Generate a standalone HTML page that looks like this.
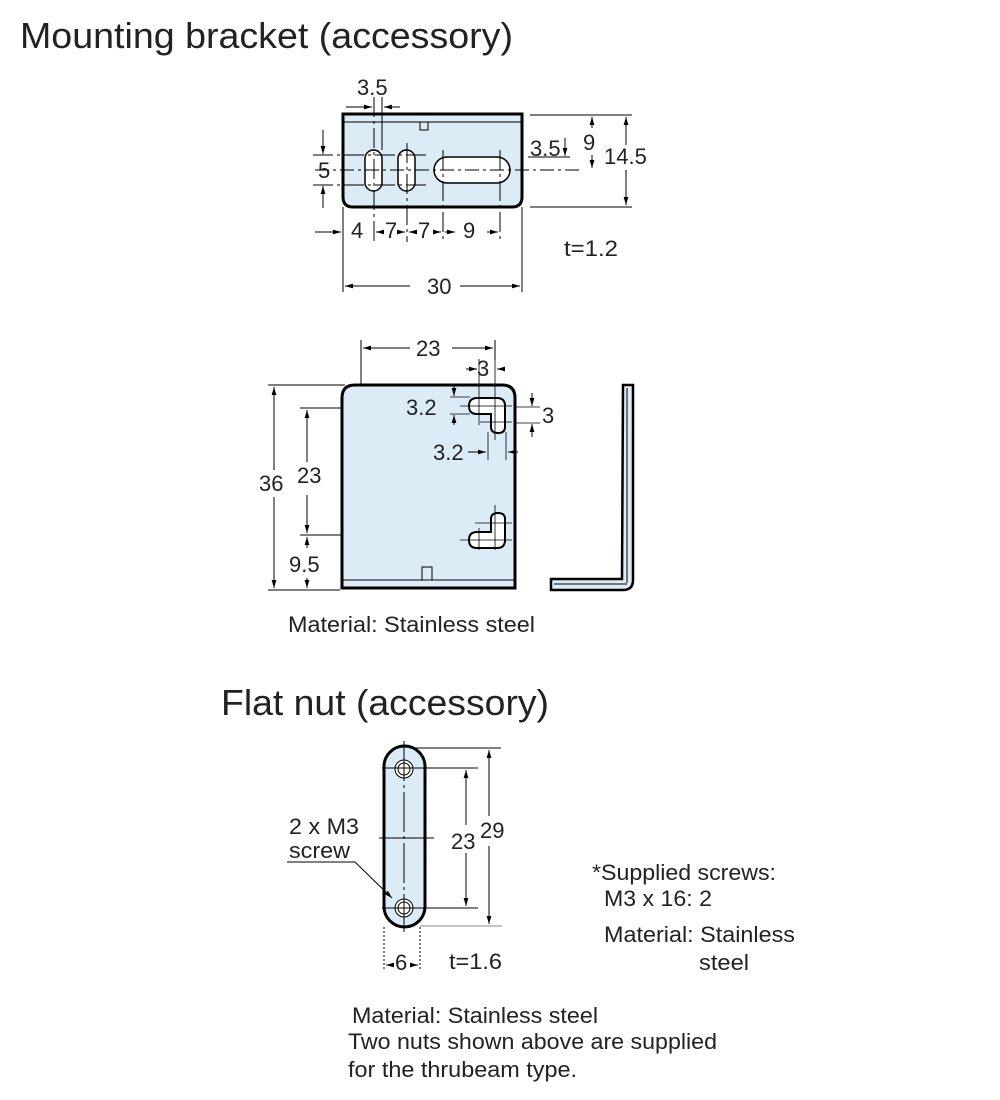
<!DOCTYPE html>
<html><head><meta charset="utf-8"><style>
body{margin:0;background:#fff;}
svg{display:block;font-family:"Liberation Sans",sans-serif;}
</style></head><body>
<svg width="1000" height="1100" viewBox="0 0 1000 1100" xmlns="http://www.w3.org/2000/svg">
<defs>
<marker id="a" viewBox="0 0 10 10" refX="10" refY="5" markerWidth="8" markerHeight="8" orient="auto-start-reverse"><path d="M0,2 L10,5 L0,8z" fill="#000"/></marker>
</defs>
<g fill="#222">
<text x="20" y="48" font-size="36" textLength="493" lengthAdjust="spacingAndGlyphs">Mounting bracket (accessory)</text>
<text x="221" y="715" font-size="36" textLength="328" lengthAdjust="spacingAndGlyphs">Flat nut (accessory)</text>
</g>
<g stroke="#000" fill="none" stroke-width="1">
<!-- top view -->
<path d="M343,114 H522 V197 Q522,207 512,207 H353 Q343,207 343,197 Z" fill="#dcecf6" stroke-width="3"/>
<line x1="343" y1="122" x2="522" y2="122"/>
<rect x="420" y="122" width="8" height="8"/>
<rect x="365" y="150" width="17" height="41" rx="8.5" fill="#fff" stroke-width="1.5"/>
<rect x="398" y="150" width="17" height="41" rx="8.5" fill="#fff" stroke-width="1.5"/>
<rect x="434" y="157" width="76" height="26" rx="13" fill="#fff" stroke-width="1.5"/>
<line x1="315" y1="170" x2="580" y2="170" stroke-dasharray="14,4,3,4"/>
<line x1="313" y1="155" x2="428" y2="155" stroke-dasharray="20,4,3,4"/>
<line x1="313" y1="185" x2="428" y2="185" stroke-dasharray="20,4,3,4"/>
<line x1="374" y1="97" x2="374" y2="242" stroke-dasharray="20,4,3,4"/>
<line x1="407" y1="143" x2="407" y2="242" stroke-dasharray="20,4,3,4"/>
<line x1="443" y1="150" x2="443" y2="242" stroke-dasharray="20,4,3,4"/>
<line x1="500" y1="150" x2="500" y2="242" stroke-dasharray="20,4,3,4"/>
<line x1="382" y1="97" x2="382" y2="150"/>
<line x1="346" y1="107" x2="372" y2="107" marker-end="url(#a)"/>
<line x1="400" y1="107" x2="384" y2="107" marker-end="url(#a)"/>
<line x1="323" y1="130" x2="323" y2="154" marker-end="url(#a)"/>
<line x1="323" y1="208" x2="323" y2="186" marker-end="url(#a)"/>
<line x1="530" y1="115" x2="632" y2="115"/>
<line x1="530" y1="207" x2="632" y2="207"/>
<line x1="626" y1="145" x2="626" y2="117" marker-end="url(#a)"/>
<line x1="626" y1="170" x2="626" y2="205" marker-end="url(#a)"/>
<line x1="592" y1="128" x2="592" y2="117" marker-end="url(#a)"/>
<line x1="592" y1="155" x2="592" y2="168" marker-end="url(#a)"/>
<line x1="565" y1="138" x2="565" y2="156" marker-end="url(#a)"/>
<line x1="528" y1="157" x2="570" y2="157"/>
<line x1="343" y1="207" x2="343" y2="292"/>
<line x1="522" y1="207" x2="522" y2="292"/>
<line x1="315" y1="232" x2="341" y2="232" marker-end="url(#a)"/>
<line x1="383" y1="232" x2="376" y2="232" marker-end="url(#a)"/>
<line x1="398" y1="232" x2="405" y2="232" marker-end="url(#a)"/>
<line x1="416" y1="232" x2="409" y2="232" marker-end="url(#a)"/>
<line x1="433" y1="232" x2="441" y2="232" marker-end="url(#a)"/>
<line x1="445" y1="232" x2="455" y2="232" marker-end="url(#a)"/>
<line x1="487" y1="232" x2="498" y2="232" marker-end="url(#a)"/>
<line x1="410" y1="286" x2="345" y2="286" marker-end="url(#a)"/>
<line x1="460" y1="286" x2="520" y2="286" marker-end="url(#a)"/>

<!-- front view -->
<path d="M342,588 V398 Q342,385 355,385 H502 Q515,385 515,398 V588 Z" fill="#dcecf6" stroke-width="3"/>
<line x1="342" y1="580" x2="515" y2="580"/>
<rect x="422" y="567" width="10" height="13"/>
<path d="M477,398 H497 Q505,398 505,406 V427 Q505,433 498,433 Q491,433 491,427 V414 H477 Q469,414 469,406 Q469,398 477,398 Z" fill="#fff" stroke-width="2"/>
<path d="M477,548 H497 Q505,548 505,540 V519 Q505,513 498,513 Q491,513 491,519 V532 H477 Q469,532 469,540 Q469,548 477,548 Z" fill="#fff" stroke-width="2"/>
<g stroke-width="0.8">
<line x1="479" y1="359" x2="479" y2="425"/><line x1="495" y1="359" x2="495" y2="440"/>
<line x1="460" y1="406" x2="512" y2="406"/><line x1="480" y1="422" x2="512" y2="422"/>
<line x1="488" y1="432" x2="488" y2="460"/><line x1="506" y1="432" x2="506" y2="460"/>
<line x1="460" y1="540" x2="512" y2="540"/><line x1="475" y1="523" x2="512" y2="523"/>
<line x1="479" y1="528" x2="479" y2="550"/><line x1="495" y1="505" x2="495" y2="550"/>
<line x1="450" y1="397" x2="470" y2="397"/><line x1="450" y1="414" x2="470" y2="414"/>
<line x1="515" y1="407" x2="540" y2="407"/><line x1="515" y1="423" x2="540" y2="423"/>
</g>
<line x1="454" y1="385" x2="454" y2="396" marker-end="url(#a)"/>
<line x1="454" y1="425" x2="454" y2="415" marker-end="url(#a)"/>
<line x1="532" y1="393" x2="532" y2="406" marker-end="url(#a)"/>
<line x1="532" y1="437" x2="532" y2="424" marker-end="url(#a)"/>
<line x1="468" y1="452" x2="486" y2="452" marker-end="url(#a)"/>
<line x1="518" y1="452" x2="508" y2="452" marker-end="url(#a)"/>
<line x1="466" y1="369" x2="477" y2="369" marker-end="url(#a)"/>
<line x1="505" y1="369" x2="497" y2="369" marker-end="url(#a)"/>
<line x1="361" y1="340" x2="361" y2="385"/>
<line x1="495" y1="340" x2="495" y2="360"/>
<line x1="410" y1="348" x2="363" y2="348" marker-end="url(#a)"/>
<line x1="452" y1="348" x2="493" y2="348" marker-end="url(#a)"/>
<line x1="268" y1="385" x2="345" y2="385"/>
<line x1="268" y1="590" x2="340" y2="590"/>
<line x1="274" y1="470" x2="274" y2="387" marker-end="url(#a)"/>
<line x1="274" y1="497" x2="274" y2="588" marker-end="url(#a)"/>
<line x1="300" y1="408" x2="342" y2="408"/>
<line x1="300" y1="535" x2="342" y2="535"/>
<line x1="307" y1="462" x2="307" y2="410" marker-end="url(#a)"/>
<line x1="307" y1="495" x2="307" y2="533" marker-end="url(#a)"/>
<line x1="307" y1="548" x2="307" y2="537" marker-end="url(#a)"/>
<line x1="307" y1="578" x2="307" y2="588" marker-end="url(#a)"/>
<!-- side view -->
<path d="M623,385 H633 V580 Q633,590 623,590 H551 V579 H622 Z" fill="#dcecf6" stroke-width="2.5"/>
<line x1="627" y1="388" x2="627" y2="583"/>
<line x1="554" y1="584" x2="627" y2="584"/>

<!-- flat nut -->
<rect x="384" y="746" width="41" height="181" rx="20.5" fill="#dcecf6" stroke-width="3"/>
<circle cx="404" cy="769" r="9" fill="#fff"/><circle cx="404" cy="769" r="6"/>
<circle cx="404" cy="908" r="9" fill="#fff"/><circle cx="404" cy="908" r="6"/>
<line x1="404" y1="741" x2="404" y2="932" stroke-dasharray="40,4,3,4"/>
<line x1="379" y1="838" x2="434" y2="838"/>
<line x1="382" y1="768" x2="478" y2="768"/>
<line x1="382" y1="908" x2="478" y2="908"/>
<line x1="414" y1="748" x2="501" y2="748"/>
<line x1="420" y1="926" x2="502" y2="926" stroke="#888"/>
<line x1="466" y1="825" x2="466" y2="770" marker-end="url(#a)"/>
<line x1="466" y1="853" x2="466" y2="906" marker-end="url(#a)"/>
<line x1="489" y1="816" x2="489" y2="750" marker-end="url(#a)"/>
<line x1="489" y1="846" x2="489" y2="924" marker-end="url(#a)"/>
<line x1="384" y1="927" x2="384" y2="970" stroke-dasharray="2,2"/>
<line x1="420" y1="927" x2="420" y2="970" stroke-dasharray="2,2"/>
<line x1="392" y1="965" x2="386" y2="965" marker-end="url(#a)"/>
<line x1="412" y1="965" x2="418" y2="965" marker-end="url(#a)"/>
<polyline points="287,862 355,862 392,898" marker-end="url(#a)"/>
</g>
<g fill="#222" font-size="22">
<text x="357" y="95">3.5</text>
<text x="318" y="178">5</text>
<text x="530" y="156">3.5</text>
<text x="583" y="150">9</text>
<text x="604" y="164">14.5</text>
<text x="351" y="238">4</text>
<text x="385" y="238">7</text>
<text x="418" y="238">7</text>
<text x="463" y="238">9</text>
<text x="564" y="256" textLength="54" lengthAdjust="spacingAndGlyphs">t=1.2</text>
<text x="427" y="294">30</text>
<text x="416" y="356">23</text>
<text x="477" y="376">3</text>
<text x="406" y="415">3.2</text>
<text x="542" y="423">3</text>
<text x="433" y="460">3.2</text>
<text x="259" y="491">36</text>
<text x="297" y="483">23</text>
<text x="289" y="572">9.5</text>
<text x="288" y="632" textLength="247" lengthAdjust="spacingAndGlyphs">Material: Stainless steel</text>
<text x="289" y="834" textLength="70" lengthAdjust="spacingAndGlyphs">2 x M3</text>
<text x="289" y="858" textLength="61" lengthAdjust="spacingAndGlyphs">screw</text>
<text x="451" y="849">23</text>
<text x="480" y="838">29</text>
<text x="395" y="970">6</text>
<text x="449" y="969" textLength="53" lengthAdjust="spacingAndGlyphs">t=1.6</text>
<text x="592" y="880" textLength="184" lengthAdjust="spacingAndGlyphs">*Supplied screws:</text>
<text x="604" y="906" textLength="108" lengthAdjust="spacingAndGlyphs">M3 x 16: 2</text>
<text x="604" y="942" textLength="191" lengthAdjust="spacingAndGlyphs">Material: Stainless</text>
<text x="699" y="970" textLength="50" lengthAdjust="spacingAndGlyphs">steel</text>
<text x="352" y="1023" textLength="246" lengthAdjust="spacingAndGlyphs">Material: Stainless steel</text>
<text x="348" y="1049" textLength="369" lengthAdjust="spacingAndGlyphs">Two nuts shown above are supplied</text>
<text x="348" y="1077" textLength="229" lengthAdjust="spacingAndGlyphs">for the thrubeam type.</text>
</g>
</svg>
</body></html>
